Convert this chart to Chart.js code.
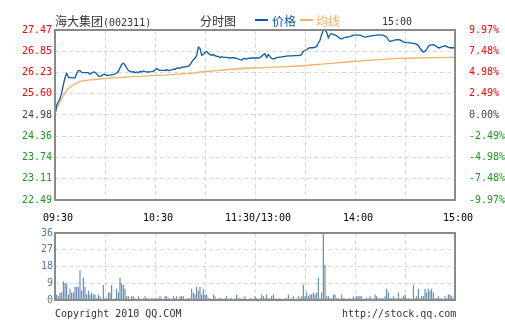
<!DOCTYPE html>
<html><head><meta charset="utf-8">
<script src="https://cdn.jsdelivr.net/npm/chart.js@4.4.0/dist/chart.umd.min.js"></script>
<style>
html,body{margin:0;padding:0;background:#fff;}
#wrap{position:relative;width:505px;height:330px;overflow:hidden;background:#fff;}
#c1{position:absolute;left:0;top:0;}
#c2{position:absolute;left:0;top:225px;}
.t{position:absolute;white-space:nowrap;color:#333;line-height:12px;}
.cn{font-family:"Noto Sans CJK SC";font-size:12px;}
.mono{font-family:"DejaVu Sans Mono";font-size:10px;}
.ln{position:absolute;height:2px;width:13px;}
</style></head>
<body><div id="wrap">
<canvas id="c1" width="505" height="225"></canvas>
<canvas id="c2" width="505" height="105"></canvas>
<div class="t cn" style="left:55px;top:15px;">海大集团<span class="mono">(002311)</span></div>
<div class="t cn" style="left:200px;top:15px;">分时图</div>
<div class="ln" style="left:255px;top:19px;background:#0d5aa7;"></div>
<div class="t cn" style="left:272px;top:15px;color:#0d5aa7;">价格</div>
<div class="ln" style="left:300px;top:19px;background:#f5b066;"></div>
<div class="t cn" style="left:316px;top:15px;color:#f5b066;">均线</div>
<div class="t mono" style="left:382px;top:16px;">15:00</div>
<div class="t mono" style="left:55px;top:308px;">Copyright 2010 QQ.COM</div>
<div class="t mono" style="left:342px;top:308px;">http://stock.qq.com</div>
</div>
<script>
// ---- data ----
const prevClose = 24.98;
const priceMinutes = [0,1,2,3,4,5,6,7,8,10,12,13,14,15,16,18,20,21,22,23,24,25,26,28,29,30,31,33,35,36,37,38,39,40,41,42,43,44,45,46,47,48,49,50,51,52,53,54,56,58,59,60,61,62,63,65,66,67,68,70,71,72,73,74,75,76,77,78,79,80,81,82,83,84,85,86,87,88,89,90,91,92,93,94,95,96,97,98,99,100,101,103,105,107,108,109,110,111,112,113,114,115,116,118,120,122,123,124,125,126,127,128,129,130,131,132,133,134,136,138,140,142,144,146,147,148,149,150,151,152,153,155,157,158,159,160,161,162,163,164,165,166,167,168,169,170,171,172,173,174,175,176,177,178,179,181,183,185,186,187,188,189,190,192,194,195,196,197,198,199,200,201,202,203,204,206,207,208,209,210,211,213,215,216,217,218,219,220,221,222,223,224,225,227,228,229,230,231,232,233,234,235,236,237,239,240];
const priceValues = [25.00,25.27,25.37,25.46,25.63,25.87,26.07,26.20,26.09,26.07,26.07,26.19,26.28,26.28,26.23,26.22,26.22,26.17,26.21,26.24,26.23,26.19,26.12,26.12,26.17,26.17,26.14,26.15,26.16,26.18,26.21,26.26,26.36,26.46,26.50,26.44,26.36,26.29,26.26,26.24,26.25,26.22,26.24,26.22,26.26,26.24,26.27,26.25,26.24,26.25,26.26,26.30,26.34,26.31,26.29,26.29,26.28,26.31,26.28,26.30,26.32,26.32,26.35,26.36,26.35,26.38,26.38,26.39,26.40,26.41,26.45,26.53,26.60,26.64,26.73,26.97,26.93,26.73,26.75,26.81,26.84,26.79,26.75,26.73,26.75,26.72,26.70,26.70,26.66,26.69,26.67,26.67,26.65,26.66,26.65,26.64,26.62,26.60,26.59,26.63,26.64,26.62,26.64,26.65,26.65,26.65,26.66,26.70,26.75,26.77,26.67,26.75,26.69,26.64,26.62,26.64,26.66,26.67,26.68,26.70,26.71,26.71,26.72,26.72,26.73,26.75,26.85,26.87,26.90,26.93,26.95,26.95,26.99,27.09,27.17,27.34,27.46,27.47,27.40,27.24,27.34,27.36,27.34,27.32,27.30,27.26,27.22,27.21,27.23,27.25,27.27,27.26,27.28,27.30,27.32,27.32,27.32,27.28,27.26,27.27,27.28,27.29,27.30,27.31,27.33,27.33,27.32,27.31,27.29,27.26,27.18,27.13,27.15,27.16,27.18,27.19,27.18,27.15,27.12,27.11,27.10,27.09,27.08,27.07,27.05,27.02,26.93,26.87,26.82,26.85,26.90,26.99,27.03,27.04,27.02,26.98,26.95,26.95,26.98,26.99,27.01,26.99,26.96,26.95,26.95,26.94];
const avgMinutes = [0,1,2,3,4,5,6,7,8,10,12,14,16,20,24,30,36,42,48,54,60,66,72,78,82,87,97,105,115,125,139,150,160,167,177,187,197,205,217,227,240];
const avgValues = [25.00,25.17,25.27,25.37,25.46,25.55,25.63,25.70,25.76,25.83,25.89,25.94,25.97,26.00,26.02,26.05,26.07,26.09,26.11,26.12,26.14,26.15,26.17,26.19,26.20,26.24,26.28,26.32,26.35,26.37,26.40,26.43,26.47,26.50,26.54,26.58,26.61,26.64,26.65,26.66,26.67];
const volMinutes = [1,2,3,4,5,6,7,8,9,10,11,12,13,14,15,16,17,18,19,20,21,22,23,24,25,26,27,29,30,31,32,33,34,36,37,38,39,40,41,42,43,44,46,47,48,50,51,53,54,55,56,58,59,61,62,63,64,66,67,68,69,71,72,73,75,76,77,79,80,81,82,83,84,85,86,87,88,89,90,91,92,93,95,96,98,99,100,102,103,105,106,108,109,110,111,113,114,117,118,120,121,123,124,125,126,127,128,129,130,131,132,134,135,138,139,140,142,143,146,147,148,149,150,151,152,153,154,155,156,157,158,159,160,161,162,163,164,165,166,167,168,169,170,172,173,174,176,177,179,180,181,182,183,184,186,187,188,189,190,192,193,194,195,196,197,198,199,200,201,202,203,204,205,206,207,208,209,210,211,212,213,215,216,217,218,219,220,221,222,223,224,225,226,227,228,229,230,231,232,234,235,236,237,238,239];
const volValues = [3,2,4,4,10,9,9,3,6,4,4,7,7,7,16,5,12,7,3,5,3,4,3,3,1,3,2,8,1,1,4,4,8,1,6,4,12,9,8,6,2,2,2,2,1,2,1,1,2,1,1,1,1,1,1,2,1,2,2,1,1,2,1,2,2,2,2,1,1,1,6,4,3,7,5,7,3,6,3,3,1,1,3,2,1,1,1,1,2,1,1,1,3,1,1,1,2,1,1,2,1,1,3,2,1,3,1,1,2,3,1,1,1,1,1,3,1,2,2,1,2,8,2,4,2,3,3,4,3,4,12,1,4,36,19,2,2,1,1,3,3,1,1,3,1,1,1,1,2,1,2,2,2,2,1,1,1,2,1,3,2,1,1,1,1,2,6,4,1,1,2,1,1,4,1,1,2,3,1,1,1,8,1,2,6,1,2,2,6,4,6,5,6,4,1,1,2,1,1,2,1,3,3,2,1];
const priceTicks = [22.49,23.11,23.74,24.36,24.98,25.60,26.23,26.85,27.47];
const pctTickLabels = ['-9.97%','-7.48%','-4.98%','-2.49%','0.00%','2.49%','4.98%','7.48%','9.97%'];
const xTickMinutes = [0,30,60,90,120,150,180,210,240];
const xTickLabels = ['09:30','','10:30','','11:30/13:00','','14:00','','15:00'];
const volTicks = [0,9,18,27,36];

// ---- styling ----
const monoFont = {family:'DejaVu Sans Mono', size:10};
const gridColor = '#d8d8d8';
const dash = [4,3];
const boxPlugin = {id:'box', afterDraw(chart){
  const {ctx, chartArea:a} = chart;
  ctx.save(); ctx.strokeStyle = '#8a8a8a'; ctx.lineWidth = 2;
  ctx.strokeRect(a.left, a.top, a.right - a.left, a.bottom - a.top);
  ctx.restore();
}};
const pctColor = (i) => i > 4 ? '#ff0000' : (i === 4 ? '#444444' : '#1a9a1a');

new Chart(document.getElementById('c1'), {
  type: 'line',
  data: { datasets: [
    { label:'价格', data: priceMinutes.map((m,i)=>({x:m, y:priceValues[i]})),
      borderColor:'#0d5aa7', borderWidth:1.3, pointRadius:0, tension:0, yAxisID:'y', clip:3 },
    { label:'均线', data: avgMinutes.map((m,i)=>({x:m, y:avgValues[i]})),
      borderColor:'#f5b066', borderWidth:1.3, pointRadius:0, tension:0, yAxisID:'y', clip:3 }
  ]},
  options: {
    responsive:false, animation:false, events:[],
    layout:{padding:{top:30, left:0, right:0, bottom:0}},
    plugins:{legend:{display:false}, tooltip:{enabled:false}},
    scales:{
      x:{ type:'linear', min:0, max:240,
        afterBuildTicks:s=>{ s.ticks = xTickMinutes.map(v=>({value:v})); },
        afterFit:s=>{ s.height = 25; },
        grid:{color:gridColor, drawTicks:false, borderDash:dash},
        border:{display:false, dash:dash},
        ticks:{autoSkip:false, maxRotation:0, minRotation:0, padding:12, color:'#000', font:monoFont, labelOffset:3,
          callback:(v,i)=>xTickLabels[i]} },
      y:{ position:'left', min:22.49, max:27.47,
        afterBuildTicks:s=>{ s.ticks = priceTicks.map(v=>({value:v})); },
        afterFit:s=>{ s.width = 55; },
        grid:{color:gridColor, drawTicks:false, borderDash:dash},
        border:{display:false, dash:dash},
        ticks:{padding:3, font:monoFont, color:c=>pctColor(c.index),
          callback:(v,i)=>priceTicks[i].toFixed(2)} },
      y2:{ position:'right', min:22.49, max:27.47,
        afterBuildTicks:s=>{ s.ticks = priceTicks.map(v=>({value:v})); },
        afterFit:s=>{ s.width = 50; },
        grid:{display:false, drawTicks:false},
        border:{display:false},
        ticks:{padding:14, font:monoFont, color:c=>pctColor(c.index),
          callback:(v,i)=>pctTickLabels[i]} }
    }
  },
  plugins:[boxPlugin]
});

new Chart(document.getElementById('c2'), {
  type: 'bar',
  data: { datasets: [
    { label:'成交量', data: volMinutes.map((m,i)=>({x:m, y:volValues[i]})),
      backgroundColor:'#4e7aa3', barThickness:1, borderWidth:0, inflateAmount:0 }
  ]},
  options: {
    responsive:false, animation:false, events:[],
    layout:{padding:{top:5, left:0, right:50, bottom:0}},
    plugins:{legend:{display:false}, tooltip:{enabled:false}},
    scales:{
      x:{ type:'linear', min:0, max:240, offset:false,
        afterBuildTicks:s=>{ s.ticks = xTickMinutes.map(v=>({value:v})); },
        afterFit:s=>{ s.height = 30; },
        grid:{color:gridColor, drawTicks:false, borderDash:dash, offset:false},
        border:{display:false, dash:dash},
        ticks:{display:false} },
      y:{ position:'left', min:0, max:36,
        afterBuildTicks:s=>{ s.ticks = volTicks.map(v=>({value:v})); },
        afterFit:s=>{ s.width = 55; },
        grid:{color:gridColor, drawTicks:false, borderDash:dash},
        border:{display:false, dash:dash},
        ticks:{padding:2, font:monoFont, color:'#4f7aa5', callback:(v,i)=>String(volTicks[i])} }
    }
  },
  plugins:[boxPlugin]
});
</script>
</body></html>
